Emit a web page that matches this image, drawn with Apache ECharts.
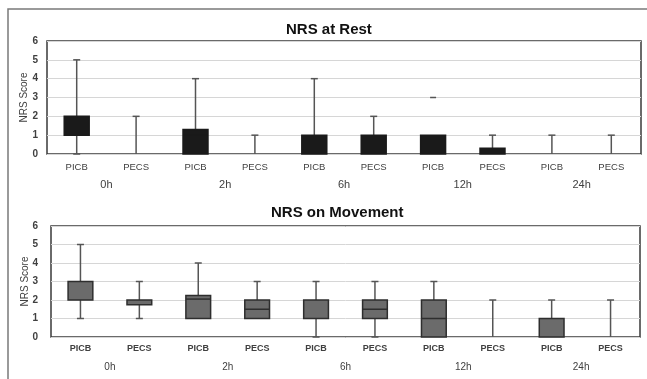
<!DOCTYPE html>
<html>
<head>
<meta charset="utf-8">
<script src="https://cdn.jsdelivr.net/npm/echarts@6/dist/echarts.min.js"></script>
<style>
html,body{margin:0;padding:0;background:#fff;}
#chart{width:647px;height:379px;}
</style>
</head>
<body>
<div id="chart"></div>
<script>
// ---- Data ----
const categories = ['PICB','PECS','PICB','PECS','PICB','PECS','PICB','PECS','PICB','PECS'];
const timeGroups = ['0h','2h','6h','12h','24h'];
const yTicks = [0,1,2,3,4,5,6];

// [min, Q1, median, Q3, max] per category
const restBoxes = [
  [0, 1, 1, 2, 5],
  [0, 0, 0, 0, 2],
  [0, 0, 1, 1.3, 4],
  [0, 0, 0, 0, 1],
  [0, 0, 0, 1, 4],
  [0, 0, 0, 1, 2],
  [0, 0, 0, 1, 1],
  [0, 0, 0, 0.3, 1],
  [0, 0, 0, 0, 1],
  [0, 0, 0, 0, 1]
];
// [categoryIndex, value]
const restOutliers = [[6, 3]];

const moveBoxes = [
  [1, 2, 2, 3, 5],
  [1, 1.75, 2, 2, 3],
  [1, 1, 2.05, 2.25, 4],
  [1, 1, 1.5, 2, 3],
  [0, 1, 2, 2, 3],
  [0, 1, 1.5, 2, 3],
  [0, 0, 1, 2, 3],
  [0, 0, 0, 0, 2],
  [0, 0, 0, 1, 2],
  [0, 0, 0, 0, 2]
];
const moveOutliers = [];

// ---- Rendering ----
const chart = echarts.init(document.getElementById('chart'), null, {renderer: 'canvas'});

function boxRenderer(fill, stroke, whisk) {
  return function (params, api) {
    const idx = api.value(0);
    const vmin = api.value(1), q1 = api.value(2), med = api.value(3), q3 = api.value(4), vmax = api.value(5);
    const bw = api.size([1, 0])[0] * 0.42;
    const cap = 5;
    const pMin = api.coord([idx, vmin]);
    const pQ1 = api.coord([idx, q1]);
    const pMed = api.coord([idx, med]);
    const pQ3 = api.coord([idx, q3]);
    const pMax = api.coord([idx, vmax]);
    const x = pMin[0];
    const children = [];
    const lineStyle = {stroke: whisk, lineWidth: 1.5};
    if (vmax > q3) {
      children.push({type: 'line', shape: {x1: x, y1: pQ3[1], x2: x, y2: pMax[1]}, style: lineStyle});
      children.push({type: 'line', shape: {x1: x - cap / 2 - 1, y1: pMax[1], x2: x + cap / 2 + 1, y2: pMax[1]}, style: lineStyle});
    }
    if (vmin < q1) {
      children.push({type: 'line', shape: {x1: x, y1: pQ1[1], x2: x, y2: pMin[1]}, style: lineStyle});
      children.push({type: 'line', shape: {x1: x - cap / 2 - 1, y1: pMin[1], x2: x + cap / 2 + 1, y2: pMin[1]}, style: lineStyle});
    }
    if (q3 > q1) {
      children.push({type: 'rect', shape: {x: x - bw / 2, y: pQ3[1], width: bw, height: pQ1[1] - pQ3[1]},
        style: {fill: fill, stroke: stroke, lineWidth: 1.5}});
      if (med > q1 && med < q3) {
        children.push({type: 'line', shape: {x1: x - bw / 2, y1: pMed[1], x2: x + bw / 2, y2: pMed[1]},
          style: {stroke: stroke, lineWidth: 1.5}});
      }
    }
    return {type: 'group', children: children};
  };
}

function outlierRenderer(color) {
  return function (params, api) {
    const p = api.coord([api.value(0), api.value(1)]);
    return {type: 'line', shape: {x1: p[0] - 3, y1: p[1], x2: p[0] + 3, y2: p[1]}, style: {stroke: color, lineWidth: 1.5}};
  };
}

const FONT = 'Liberation Sans';
const restData = restBoxes.map((b, i) => [i].concat(b));
const moveData = moveBoxes.map((b, i) => [i].concat(b));

function yAxisCfg(gi, gap, margin) {
  return {
    type: 'value', gridIndex: gi, min: yTicks[0], max: yTicks[yTicks.length - 1], interval: 1,
    name: 'NRS Score', nameLocation: 'middle', nameGap: gap, nameMoveOverlap: false,
    nameTextStyle: {fontFamily: FONT, fontSize: 10, color: '#404040'},
    axisLine: {show: false}, axisTick: {show: false},
    axisLabel: {fontFamily: FONT, fontSize: 10, color: '#404040', fontWeight: 'bold', margin: margin},
    splitLine: {show: true, lineStyle: {color: '#d6d6d6', width: 1}}
  };
}

const option = {
  backgroundColor: '#ffffff',
  animation: false,
  graphic: [{
    type: 'rect', shape: {x: 8, y: 9, width: 700, height: 420},
    style: {fill: 'none', stroke: '#7a7a7a', lineWidth: 1.5}, silent: true, z: -1
  }],
  title: [
    {text: 'NRS at Rest', left: 281, top: 17,
     textStyle: {fontFamily: FONT, fontSize: 15, fontWeight: 'bold', color: '#111'}},
    {text: 'NRS on Movement', left: 266, top: 200,
     textStyle: {fontFamily: FONT, fontSize: 15, fontWeight: 'bold', color: '#111'}}
  ],
  grid: [
    {left: 47, top: 41, right: 6, height: 113, show: true, borderColor: '#3a3a3a', borderWidth: 1.5, backgroundColor: '#fff'},
    {left: 51, top: 226, right: 7, height: 111, show: true, borderColor: '#3a3a3a', borderWidth: 1.5, backgroundColor: '#fff'}
  ],
  xAxis: [
    {type: 'category', gridIndex: 0, data: categories,
     axisLine: {show: false}, axisTick: {show: false},
     axisLabel: {fontFamily: FONT, fontSize: 9.5, color: '#404040', margin: 8}},
    {type: 'category', gridIndex: 0, data: timeGroups, position: 'bottom', offset: 17,
     axisLine: {show: false}, axisTick: {show: false},
     axisLabel: {fontFamily: FONT, fontSize: 11, color: '#404040', margin: 8}},
    {type: 'category', gridIndex: 1, data: categories,
     axisLine: {show: false}, axisTick: {show: false},
     axisLabel: {fontFamily: FONT, fontSize: 9, color: '#404040', fontWeight: 'bold', margin: 7}},
    {type: 'category', gridIndex: 1, data: timeGroups, position: 'bottom', offset: 17,
     axisLine: {show: false}, axisTick: {show: false},
     axisLabel: {fontFamily: FONT, fontSize: 10, color: '#404040', margin: 8}}
  ],
  yAxis: [yAxisCfg(0, 18, 9), yAxisCfg(1, 21, 13)],
  series: [
    {type: 'custom', xAxisIndex: 0, yAxisIndex: 0, data: restData,
     encode: {x: 0, y: [1, 2, 3, 4, 5]}, renderItem: boxRenderer('#1a1a1a', '#1a1a1a', '#555555'), clip: false},
    {type: 'custom', xAxisIndex: 0, yAxisIndex: 0, data: restOutliers,
     encode: {x: 0, y: 1}, renderItem: outlierRenderer('#555555')},
    {type: 'custom', xAxisIndex: 2, yAxisIndex: 1, data: moveData,
     encode: {x: 0, y: [1, 2, 3, 4, 5]}, renderItem: boxRenderer('#6b6b6b', '#2e2e2e', '#555555'), clip: false},
    {type: 'custom', xAxisIndex: 2, yAxisIndex: 1, data: moveOutliers,
     encode: {x: 0, y: 1}, renderItem: outlierRenderer('#555555')}
  ]
};
chart.setOption(option);
</script>
</body>
</html>
